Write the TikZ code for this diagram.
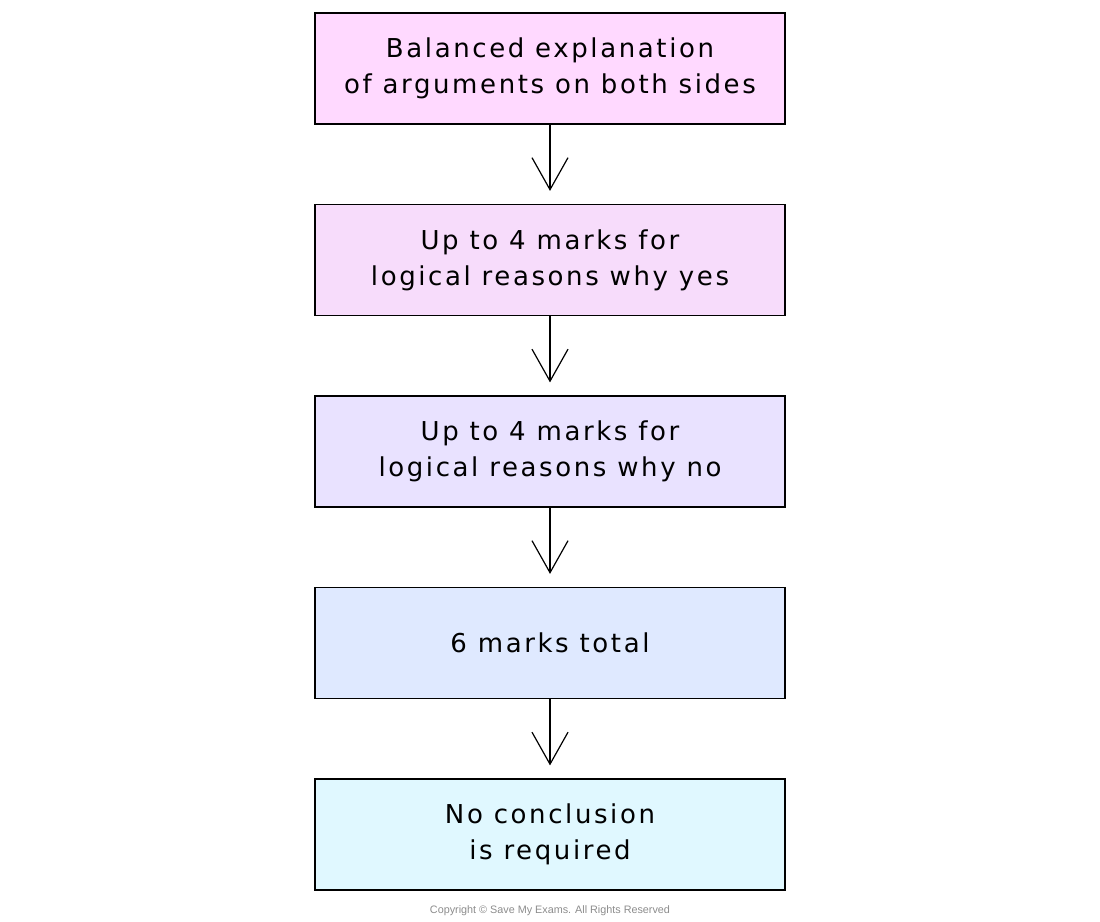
\documentclass[tikz,border=0pt]{standalone}
\usepackage{fontspec}
\setmainfont[LetterSpace=10]{DejaVu Sans}
\newfontfamily\copyfont{Liberation Sans}
\usetikzlibrary{arrows.meta}
\definecolor{cA}{HTML}{FFD9FF}
\definecolor{cB}{HTML}{F7DCFB}
\definecolor{cC}{HTML}{E9E2FF}
\definecolor{cD}{HTML}{DFE9FF}
\definecolor{cE}{HTML}{E0F8FF}
\tikzset{
  flowbox/.style={draw=black, line width=1.2pt, minimum width=470pt, minimum height=111pt,
    align=center, font=\fontsize{26}{36}\selectfont, inner sep=0pt},
  flowarrow/.style={line width=1.3pt, -{Straight Barb[length=32pt,width=36pt,line width=1.2pt]}, shorten >=13pt}
}
\begin{document}
\begin{tikzpicture}[x=1pt,y=-1pt]
\useasboundingbox (0,0) rectangle (1100,921);
\node[flowbox, fill=cA] (b1) at (550,68.5) {Balanced explanation\\of arguments on both sides};
\node[flowbox, fill=cB] (b2) at (550,260) {Up to 4 marks for\\logical reasons why yes};
\node[flowbox, fill=cC] (b3) at (550,451.5) {Up to 4 marks for\\logical reasons why no};
\node[flowbox, fill=cD] (b4) at (550,643) {6 marks total};
\node[flowbox, fill=cE] (b5) at (550,834.5) {No conclusion\\is required};
\draw[flowarrow] (b1) -- (b2);
\draw[flowarrow] (b2) -- (b3);
\draw[flowarrow] (b3) -- (b4);
\draw[flowarrow] (b4) -- (b5);
\node[font=\copyfont\fontsize{10.8}{12}\selectfont, text=black!45] (copy) at (550,911) {Copyright \textcopyright\ Save My Exams. All Rights Reserved};
\end{tikzpicture}
\end{document}
